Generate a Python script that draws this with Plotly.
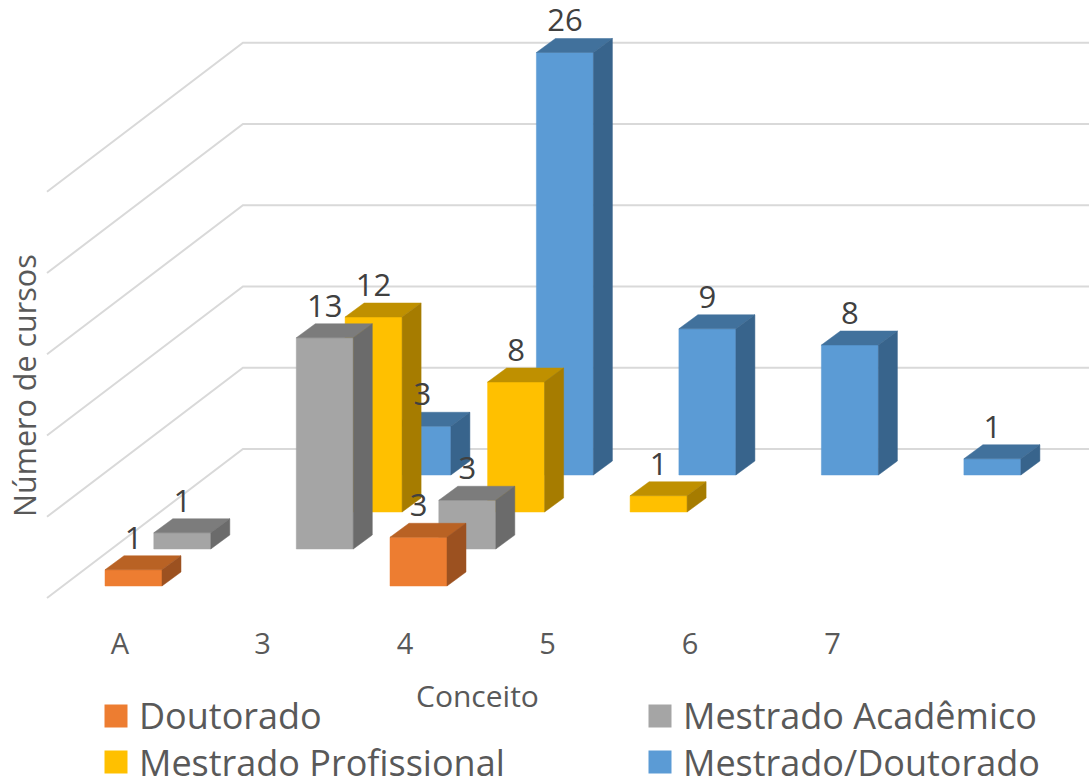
import plotly.graph_objects as go

categories = ["A", "3", "4", "5", "6", "7"]
series_names = ["Doutorado", "Mestrado Acadêmico", "Mestrado Profissional", "Mestrado/Doutorado"]
doutorado = [1, None, 3, None, None, None]
academico = [1, 13, 3, None, None, None]
profissional = [None, 12, 8, 1, None, None]
mest_dout = [None, 3, 26, 9, 8, 1]
gridlines = [0, 5, 10, 15, 20, 25]
axis_x_title = "Conceito"
axis_y_title = "Número de cursos"

W, H = 1089, 778
UX, UY = 142.5, 16.25          # px per category / per course
X0PX, Y0PX = 105, 586          # px of category 0, value 0, front series
SER_DX, SER_DY = 48.8 / UX, 37 / UY   # depth shift per series
BAR_W = 57 / UX
BAR_DX, BAR_DY = 19 / UX, 14 / UY
FONT = "Open Sans"
TXT = "#595959"
LBL = "#404040"

palette = [
    ("#ED7D31", "#B96224", "#9C5120"),
    ("#A5A5A5", "#7C7C7C", "#6B6B6B"),
    ("#FFC000", "#BF9000", "#A67C00"),
    ("#5B9BD5", "#41719C", "#38648C"),
]
values = [doutorado, academico, profissional, mest_dout]

fig = go.Figure()

# Walls and floor gridlines
gx, gy = [], []
for v in gridlines:
    gx += [-0.407, 0.968, 6.906, None]
    gy += [-0.74 + v, 8.43 + v, 8.43 + v, None]
fig.add_trace(go.Scatter(x=gx, y=gy, mode="lines", line=dict(color="#D9D9D9", width=2),
                         hoverinfo="skip", showlegend=False))

lx, ly, lt = [], [], []
for s in reversed(range(4)):
    sx = s * SER_DX
    sy = s * SER_DY
    frx, fry, tox, toy, six, siy = [], [], [], [], [], []
    for k, v in enumerate(values[s]):
        if v is None:
            continue
        x0, x1 = k + sx, k + sx + BAR_W
        y0, y1 = sy, sy + v
        frx += [x0, x1, x1, x0, x0, None]
        fry += [y0, y0, y1, y1, y0, None]
        tox += [x0, x1, x1 + BAR_DX, x0 + BAR_DX, x0, None]
        toy += [y1, y1, y1 + BAR_DY, y1 + BAR_DY, y1, None]
        six += [x1, x1 + BAR_DX, x1 + BAR_DX, x1, x1, None]
        siy += [y0, y0 + BAR_DY, y1 + BAR_DY, y1, y0, None]
        lx.append((x0 + x1) / 2)
        ly.append(y1 + 29 / UY)
        lt.append(str(v))
    for xs, ys, col in ((frx, fry, palette[s][0]), (tox, toy, palette[s][1]), (six, siy, palette[s][2])):
        fig.add_trace(go.Scatter(x=xs, y=ys, mode="lines", fill="toself", fillcolor=col,
                                 line=dict(color=col, width=0.5), hoverinfo="skip", showlegend=False))

# Data labels
fig.add_trace(go.Scatter(x=lx, y=ly, mode="text", text=lt, textposition="middle center",
                         textfont=dict(family=FONT, size=31, color=LBL), hoverinfo="skip", showlegend=False))

# Category labels
fig.add_trace(go.Scatter(x=[k + 15 / UX for k in range(len(categories))],
                         y=[(Y0PX - 647) / UY] * len(categories),
                         mode="text", text=categories, textposition="middle center",
                         textfont=dict(family=FONT, size=29, color=TXT), hoverinfo="skip", showlegend=False))

def px_x(p):
    return (p - X0PX) / UX

def px_y(p):
    return (Y0PX - p) / UY

# Legend
leg_pos = [(116, 716), (660, 716), (116, 762), (660, 762)]
for (px, py), name, pal, dy in zip(leg_pos, series_names, palette, (-1, -1, 0, 0)):
    fig.add_trace(go.Scatter(x=[px_x(px)], y=[px_y(py)], mode="markers",
                             marker=dict(symbol="square", size=23, color=pal[0]),
                             hoverinfo="skip", showlegend=False))
    fig.add_annotation(x=px_x(px + 21), y=px_y(py + dy), text=name, showarrow=False, xanchor="left",
                       yanchor="middle", font=dict(family=FONT, size=36, color=TXT))

fig.add_annotation(x=px_x(477), y=px_y(695), text=axis_x_title, showarrow=False,
                   font=dict(family=FONT, size=30, color=TXT))
fig.add_annotation(x=px_x(24), y=px_y(386), text=axis_y_title, showarrow=False, textangle=-90,
                   font=dict(family=FONT, size=30.5, color=TXT))

fig.update_layout(
    width=W, height=H, margin=dict(l=0, r=0, t=0, b=0),
    paper_bgcolor="white", plot_bgcolor="white", showlegend=False,
    xaxis=dict(range=[px_x(0), px_x(W)], visible=False, fixedrange=True),
    yaxis=dict(range=[px_y(H), px_y(0)], visible=False, fixedrange=True),
)
fig.write_html("out.html", config=dict(displayModeBar=False),
               post_script="document.body.style.margin='0';document.body.style.overflow='hidden';")
